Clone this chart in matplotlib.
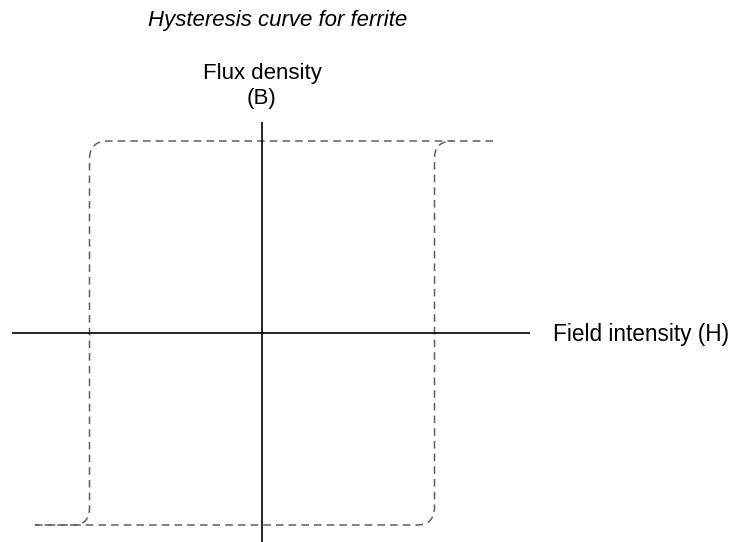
import matplotlib.pyplot as plt
from matplotlib.path import Path
from matplotlib.patches import PathPatch

plt.rcParams['font.family'] = ['Liberation Sans', 'DejaVu Sans']

# Axis extents (H and B in arbitrary units, origin at the crossing)
h_axis = [-25.0, 26.8]
b_axis = [-21.0, 21.1]

# Descending branch: positive saturation -> coercive point -> negative saturation
desc_H = [23.1, -15.4, -17.25, -17.25, -17.25, -17.25, -18.9, -22.7]
desc_B = [19.2, 19.2, 19.2, 17.4, -17.5, -19.2, -19.2, -19.2]

# Ascending branch: negative saturation -> coercive point -> positive saturation
asc_H = [-22.7, 15.5, 17.25, 17.25, 17.25, 17.25, 19.1]
asc_B = [-19.2, -19.2, -19.2, -17.4, 17.5, 19.2, 19.2]

branch_codes = [Path.MOVETO, Path.LINETO, Path.CURVE3, Path.CURVE3,
                Path.LINETO, Path.CURVE3, Path.CURVE3, Path.LINETO]

fig = plt.figure(figsize=(7.38, 5.42), dpi=100)
ax = fig.add_axes([0, 0, 1, 1])
ax.set_xlim(-26.2, 47.6)
ax.set_ylim(-20.9, 33.3)
ax.axis('off')

# H and B axes
ax.plot(h_axis, [0, 0], color='black', lw=1.2, solid_capstyle='butt')
ax.plot([0, 0], b_axis, color='black', lw=1.2, solid_capstyle='butt')

# hysteresis loop, two dashed branches with rounded knees
dash = (0, (5, 3.3))
for hs, bs in [(desc_H, desc_B), (asc_H, asc_B)]:
    path = Path(list(zip(hs, bs)), branch_codes[:len(hs)])
    ax.add_patch(PathPatch(path, fill=False, edgecolor='#5f5f5f', lw=1.1,
                           linestyle=dash))

ax.text(1.6, 30.7, 'Hysteresis curve for ferrite', fontsize=16,
        style='italic', ha='center', va='baseline')
ax.text(0, 22.4, 'Flux density\n(B)', fontsize=16, ha='center',
        va='bottom', linespacing=1.25)
ax.text(29.1, -0.1, 'Field intensity (H)', fontsize=16.3, ha='left',
        va='center')

fig.savefig('out.png', dpi=100)
